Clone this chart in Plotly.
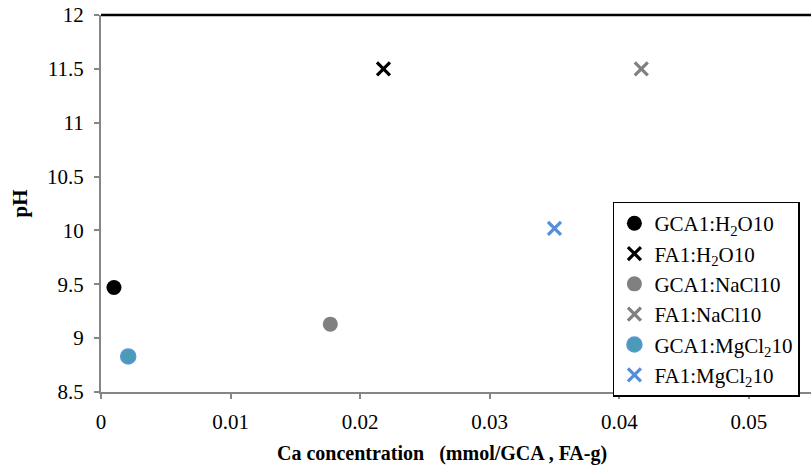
import plotly.graph_objects as go

# ---- data ----
series_names = [
    "GCA1:H<sub>2</sub>O10",
    "FA1:H<sub>2</sub>O10",
    "GCA1:NaCl10",
    "FA1:NaCl10",
    "GCA1:MgCl<sub>2</sub>10",
    "FA1:MgCl<sub>2</sub>10",
]
ca_conc = [0.0010, 0.0218, 0.0177, 0.0417, 0.0021, 0.0350]
ph_vals = [9.47, 11.50, 9.13, 11.50, 8.83, 10.02]

# ---- styles ----
symbols = ["circle", "x-thin", "circle", "x-thin", "circle", "x-thin"]
fills = ["#000000", "#000000", "#808080", "#808080", "#4a9bb5", "#558ed9"]
edges = ["#000000", "#000000", "#808080", "#808080", "#5b95dd", "#558ed9"]
sizes = [15, 13, 15, 13, 15, 13]
edge_w = [0, 3.2, 0, 3.2, 1.5, 3.2]

FONT = "Liberation Serif, Times New Roman, serif"
AXIS_GRAY = "#868686"

fig = go.Figure()
for i, name in enumerate(series_names):
    fig.add_trace(go.Scatter(
        x=[ca_conc[i]], y=[ph_vals[i]],
        mode="markers", name=name,
        legendgroup=f"g{i}",
        marker=dict(symbol=symbols[i], size=sizes[i], color=fills[i],
                    line=dict(color=edges[i], width=edge_w[i])),
        cliponaxis=False,
    ))

fig.update_layout(
    width=811, height=473,
    margin=dict(l=101, r=0, t=15, b=81),
    paper_bgcolor="white", plot_bgcolor="white",
    font=dict(family=FONT, size=21, color="#000000"),
    showlegend=True,
    legend=dict(
        x=0.721, y=0.505, xanchor="left", yanchor="top",
        bordercolor="#000000", borderwidth=1.5, bgcolor="white",
        font=dict(family=FONT, size=21, color="#000000"),
        tracegroupgap=0, itemwidth=30,
    ),
    xaxis=dict(
        range=[0, 0.0548], dtick=0.01, tick0=0,
        showgrid=False, zeroline=False,
        showline=True, linecolor=AXIS_GRAY, linewidth=2,
        ticks="outside", ticklen=5, tickwidth=1.5, tickcolor=AXIS_GRAY,
        tickfont=dict(family=FONT, size=21),
        ticklabelstandoff=5,
    ),
    yaxis=dict(
        range=[8.5, 12], dtick=0.5, tick0=8.5,
        showgrid=False, zeroline=False,
        showline=True, linecolor=AXIS_GRAY, linewidth=2,
        ticks="outside", ticklen=5, tickwidth=1.5, tickcolor=AXIS_GRAY,
        tickfont=dict(family=FONT, size=21),
        ticklabelstandoff=6,
        title=dict(text="<b>pH</b>", font=dict(family=FONT, size=21), standoff=14),
    ),
    shapes=[dict(type="line", xref="paper", yref="paper", x0=0, x1=1, y0=1, y1=1,
                 line=dict(color="#000000", width=2.5))],
    annotations=[dict(
        text="<b>Ca concentration &nbsp; (mmol/GCA , FA-g)</b>",
        xref="paper", yref="paper", x=0.48, y=-0.162,
        xanchor="center", yanchor="middle", showarrow=False,
        font=dict(family=FONT, size=20, color="#000000"),
    )],
)

fig.write_html("out.html")
